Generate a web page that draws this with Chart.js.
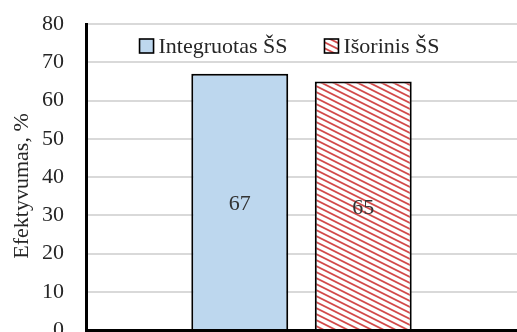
<!DOCTYPE html>
<html>
<head>
<meta charset="utf-8">
<script src="https://cdn.jsdelivr.net/npm/chart.js@4"></script>
<style>
  html, body { margin: 0; padding: 0; background: #fff; overflow: hidden; }
  #wrap { width: 517px; height: 350px; }
</style>
</head>
<body>
<div id="wrap"><canvas id="c" width="517" height="350"></canvas></div>
<script>
// Efficiency of the two system variants, in percent
const categories = [''];
const seriesNames = ['Integruotas ŠS', 'Išorinis ŠS'];
const integruotas = [67];
const isorinis = [65];
const yTicks = [0, 10, 20, 30, 40, 50, 60, 70, 80];
const yTitle = 'Efektyvumas, %';

const FONT = 'Liberation Serif';
const TEXT = '#262626';
Chart.defaults.font.family = FONT;

// Red diagonal hatch used for the second series
function makeHatch() {
  const t = document.createElement('canvas');
  t.width = 12; t.height = 6;
  const g = t.getContext('2d');
  g.fillStyle = '#ffffff';
  g.fillRect(0, 0, 12, 6);
  g.strokeStyle = '#d24a4a';
  g.lineWidth = 1.8;
  for (const dy of [-6, 0, 6]) {
    g.beginPath();
    g.moveTo(-1, dy - 0.5);
    g.lineTo(13, dy + 6.5);
    g.stroke();
  }
  return g.createPattern(t, 'repeat');
}
const hatch = makeHatch();

// Value labels in the middle of each bar
const barLabels = {
  id: 'barLabels',
  afterDatasetsDraw(chart) {
    const ctx = chart.ctx;
    ctx.save();
    ctx.font = '22px ' + FONT;
    ctx.fillStyle = '#333333';
    ctx.textAlign = 'center';
    ctx.textBaseline = 'middle';
    chart.data.datasets.forEach((ds, i) => {
      chart.getDatasetMeta(i).data.forEach((bar, j) => {
        const p = bar.getProps(['x', 'y', 'base'], true);
        ctx.fillText(String(ds.data[j]), p.x, (p.y + p.base) / 2 + 3);
      });
    });
    ctx.restore();
  }
};

// Rotated y-axis title, a little below the middle of the axis
const axisTitle = {
  id: 'axisTitle',
  afterDraw(chart) {
    const ctx = chart.ctx;
    const area = chart.chartArea;
    ctx.save();
    ctx.font = '22px ' + FONT;
    ctx.fillStyle = TEXT;
    ctx.translate(28, (area.top + area.bottom) / 2 + 9);
    ctx.rotate(-Math.PI / 2);
    ctx.textAlign = 'center';
    ctx.textBaseline = 'alphabetic';
    ctx.fillText(yTitle, 0, 0);
    ctx.restore();
  }
};

// Legend drawn inside the plot area near the top
const innerLegend = {
  id: 'innerLegend',
  afterDraw(chart) {
    const ctx = chart.ctx;
    const area = chart.chartArea;
    ctx.save();
    ctx.font = '22px ' + FONT;
    const box = 14, gapText = 5, gapItem = 37;
    const items = chart.data.datasets.map(ds => ({
      label: ds.label, fill: ds.backgroundColor,
      w: box + gapText + ctx.measureText(ds.label).width
    }));
    const total = items.reduce((s, it) => s + it.w, 0) + gapItem * (items.length - 1);
    let x = (area.left + area.right) / 2 - 12 - total / 2;
    const cy = area.top + 22;
    items.forEach(it => {
      ctx.fillStyle = it.fill;
      ctx.fillRect(x, cy - box / 2, box, box);
      ctx.lineWidth = 1.6;
      ctx.strokeStyle = '#000';
      ctx.strokeRect(x, cy - box / 2, box, box);
      ctx.fillStyle = TEXT;
      ctx.textAlign = 'left';
      ctx.textBaseline = 'middle';
      ctx.fillText(it.label, x + box + gapText, cy + 1);
      x += it.w + gapItem;
    });
    ctx.restore();
  }
};

new Chart(document.getElementById('c'), {
  type: 'bar',
  data: {
    labels: categories,
    datasets: [
      {
        label: seriesNames[0],
        data: integruotas,
        backgroundColor: '#bdd7ee',
        borderColor: '#000000',
        borderWidth: 2
      },
      {
        label: seriesNames[1],
        data: isorinis,
        backgroundColor: hatch,
        borderColor: '#000000',
        borderWidth: 2
      }
    ]
  },
  options: {
    responsive: false,
    animation: false,
    categoryPercentage: 0.573,
    barPercentage: 0.785,
    layout: { padding: { top: 24, right: 0, bottom: 20, left: 0 } },
    plugins: {
      legend: { display: false },
      tooltip: { enabled: false }
    },
    scales: {
      x: {
        afterFit(scale) { scale.height = 0; },
        ticks: { display: false },
        grid: { display: false, drawTicks: false },
        border: { display: true, color: '#000000', width: 3 }
      },
      y: {
        min: 0,
        max: 80,
        afterBuildTicks(scale) {
          scale.ticks = yTicks.map(v => ({ value: v }));
        },
        afterFit(scale) {
          scale.width = 86;
          // the end labels fit inside the layout padding
          scale.paddingTop = 0;
          scale.paddingBottom = 0;
        },
        ticks: {
          padding: 22,
          color: TEXT,
          font: { family: FONT, size: 22 }
        },
        grid: { color: '#d9d9d9', lineWidth: 2, drawTicks: false },
        border: { display: true, color: '#000000', width: 3 }
      }
    }
  },
  plugins: [barLabels, axisTitle, innerLegend]
});
</script>
</body>
</html>
